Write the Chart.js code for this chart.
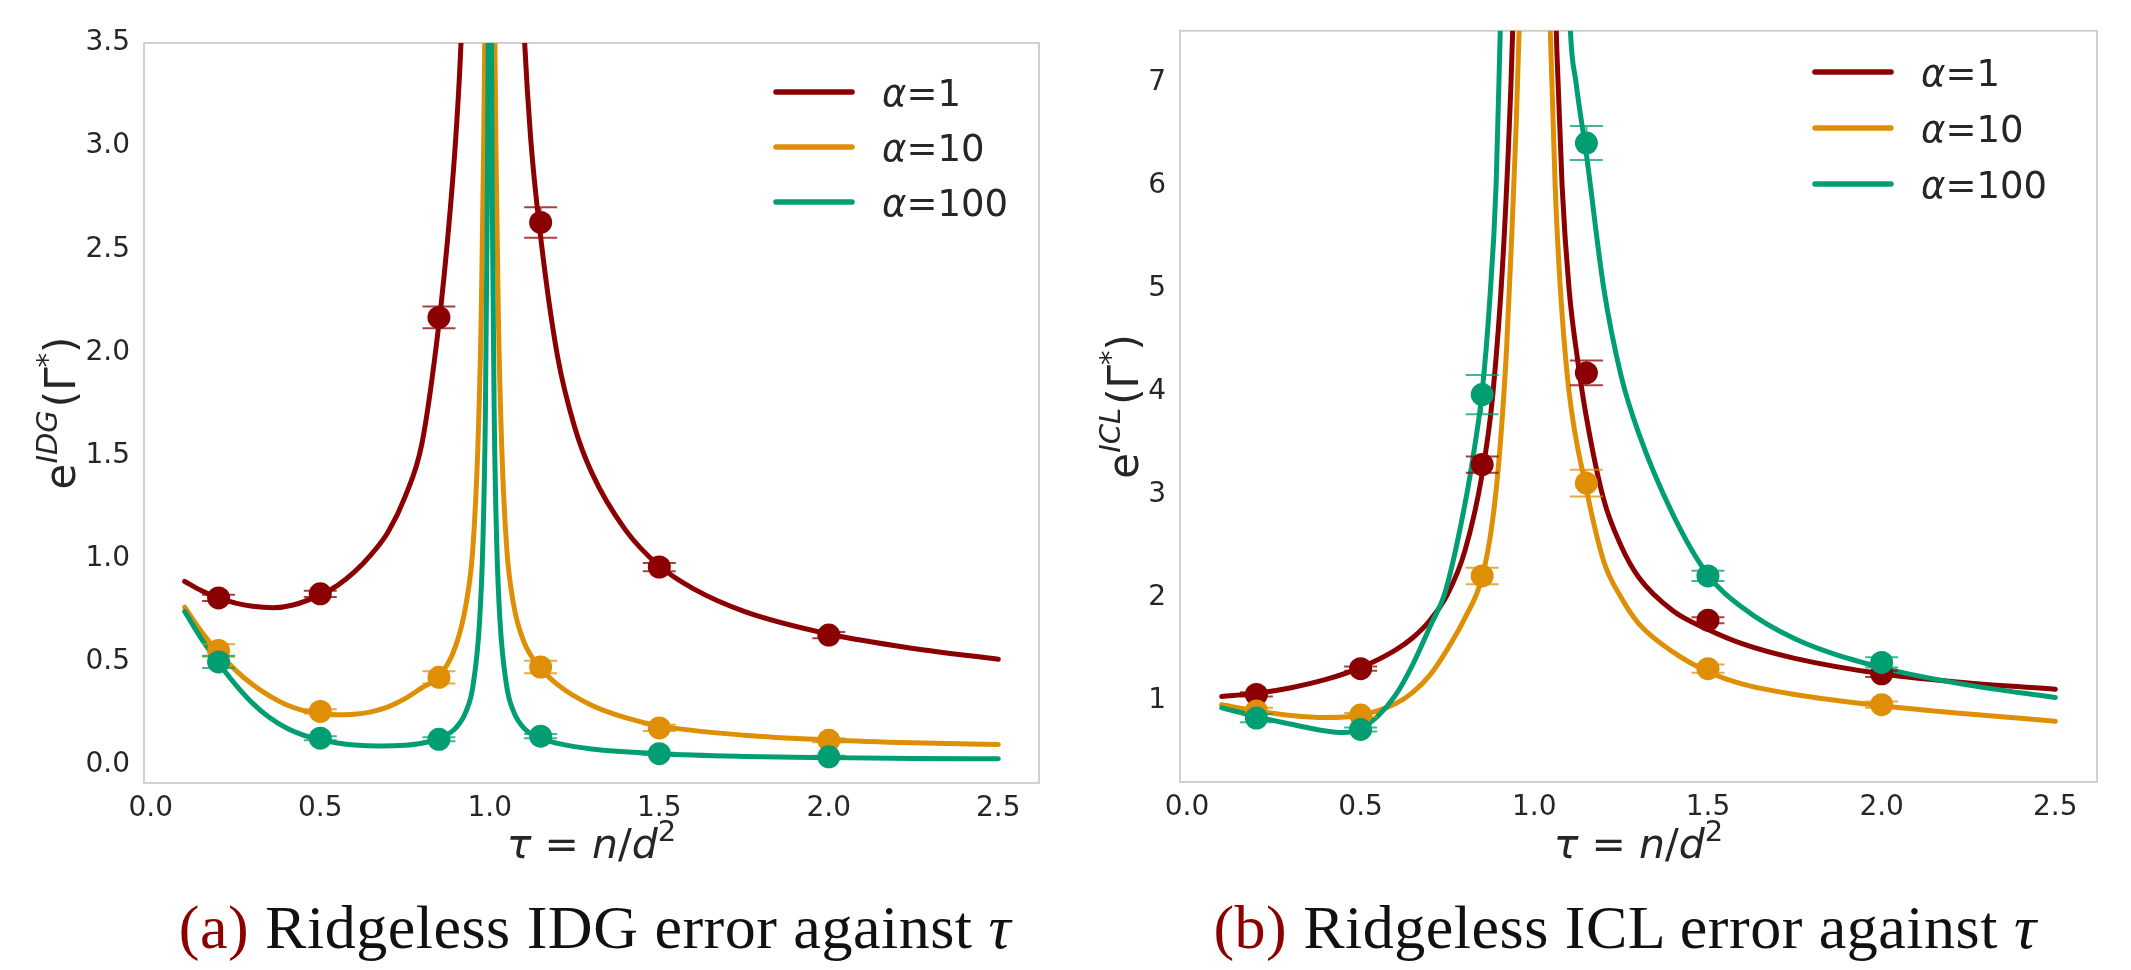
<!DOCTYPE html>
<html>
<head>
<meta charset="utf-8">
<script src="https://cdn.jsdelivr.net/npm/chart.js@4.4.1/dist/chart.umd.min.js"></script>
<style>
  html, body { margin: 0; padding: 0; background: #fff; }
  body { width: 2131px; height: 970px; position: relative; overflow: hidden; }
  .panel { position: absolute; top: 0; height: 880px; }
  #wrapA { left: 0; width: 1070px; }
  #wrapB { left: 1070px; width: 1061px; }
  .caption { position: absolute; top: 896px; font-family: "Liberation Serif", "DejaVu Serif", serif; font-size: 62px; line-height: 1; letter-spacing: 0.5px; color: #111; white-space: nowrap; transform: translateX(-50%); }
  .caption .tag { color: #8b0000; }
</style>
</head>
<body>
<div class="panel" id="wrapA"><canvas id="idgChart"></canvas></div>
<div class="panel" id="wrapB"><canvas id="iclChart"></canvas></div>
<div class="caption" style="left:595px"><span class="tag">(a)</span> Ridgeless IDG error against <i>τ</i></div>
<div class="caption" style="left:1625px"><span class="tag">(b)</span> Ridgeless ICL error against <i>τ</i></div>

<script>
// ticks
const tauTicks = [0.0, 0.5, 1.0, 1.5, 2.0, 2.5];
const idgTicks = [0.0, 0.5, 1.0, 1.5, 2.0, 2.5, 3.0, 3.5];
const iclTicks = [1, 2, 3, 4, 5, 6, 7];

const alphas = ["1", "10", "100"];
const colours = ["#8b0000", "#de8f05", "#029e73"];
const barColours = ["rgba(139,0,0,0.75)", "rgba(222,143,5,0.75)", "rgba(2,158,115,0.75)"];

// simulated points (tau positions shared by all series)
const tauObs = [0.2, 0.5, 0.85, 1.15, 1.5, 2.0];

const idgObs1 = [0.81, 0.83, 2.17, 2.63, 0.96, 0.63];
const idgErr1 = [0.015, 0.015, 0.053, 0.074, 0.02, 0.015];
const idgObs2 = [0.555, 0.26, 0.425, 0.475, 0.18, 0.12];
const idgErr2 = [0.03, 0.01, 0.03, 0.03, 0.015, 0.01];
const idgObs3 = [0.50, 0.13, 0.125, 0.14, 0.055, 0.04];
const idgErr3 = [0.03, 0.01, 0.01, 0.01, 0.005, 0.005];

const iclObs1 = [1.06, 1.31, 3.29, 4.18, 1.78, 1.26];
const iclErr1 = [0.02, 0.02, 0.08, 0.12, 0.03, 0.03];
const iclObs2 = [0.90, 0.86, 2.21, 3.11, 1.31, 0.96];
const iclErr2 = [0.03, 0.02, 0.08, 0.13, 0.04, 0.03];
const iclObs3 = [0.83, 0.72, 3.97, 6.41, 2.21, 1.37];
const iclErr3 = [0.04, 0.02, 0.19, 0.165, 0.05, 0.05];

// theory curves, [tau, value]; null marks the break at tau = 1
const idgCurve1 = [[0.10,0.890],[0.15,0.845],[0.20,0.810],[0.25,0.785],[0.30,0.770],[0.36,0.763],[0.42,0.776],[0.50,0.825],[0.55,0.870],[0.60,0.935],[0.65,1.020],[0.70,1.130],[0.75,1.300],[0.80,1.560],[0.85,2.140],[0.88,2.630],[0.90,3.050],[0.915,3.500],[0.93,4.300],[1.0,null],[1.085,4.300],[1.10,3.600],[1.12,3.050],[1.15,2.560],[1.20,1.980],[1.25,1.640],[1.30,1.420],[1.40,1.140],[1.50,0.965],[1.60,0.855],[1.75,0.745],[2.00,0.635],[2.25,0.565],[2.50,0.513]];
const idgCurve2 = [[0.10,0.765],[0.15,0.645],[0.20,0.545],[0.25,0.460],[0.30,0.390],[0.35,0.335],[0.40,0.292],[0.45,0.264],[0.50,0.250],[0.55,0.244],[0.60,0.246],[0.65,0.258],[0.70,0.282],[0.75,0.322],[0.80,0.375],[0.85,0.430],[0.90,0.580],[0.93,0.780],[0.95,1.050],[0.965,1.550],[0.975,2.200],[0.982,3.000],[0.988,4.000],[1.0,null],[1.012,4.000],[1.018,3.000],[1.025,2.200],[1.035,1.550],[1.05,1.050],[1.07,0.780],[1.10,0.600],[1.15,0.470],[1.20,0.390],[1.30,0.290],[1.40,0.230],[1.50,0.190],[1.75,0.145],[2.00,0.122],[2.25,0.108],[2.50,0.100]];
const idgCurve3 = [[0.10,0.745],[0.15,0.610],[0.20,0.495],[0.25,0.390],[0.30,0.300],[0.35,0.230],[0.40,0.180],[0.45,0.145],[0.50,0.122],[0.55,0.107],[0.60,0.097],[0.68,0.092],[0.75,0.096],[0.80,0.106],[0.85,0.128],[0.90,0.180],[0.93,0.260],[0.95,0.380],[0.97,0.700],[0.98,1.100],[0.987,1.700],[0.992,2.600],[0.996,3.700],[1.0,null],[1.004,3.700],[1.008,2.600],[1.013,1.700],[1.02,1.100],[1.03,0.700],[1.05,0.380],[1.07,0.260],[1.10,0.180],[1.15,0.130],[1.20,0.105],[1.30,0.078],[1.50,0.055],[1.75,0.042],[2.00,0.036],[2.25,0.032],[2.50,0.030]];

const iclCurve1 = [[0.10,1.040],[0.20,1.070],[0.30,1.125],[0.40,1.205],[0.50,1.320],[0.60,1.490],[0.65,1.610],[0.70,1.780],[0.75,2.030],[0.80,2.450],[0.85,3.200],[0.88,3.950],[0.91,5.300],[0.933,7.000],[0.945,8.300],[1.0,null],[1.055,8.500],[1.065,7.300],[1.08,6.000],[1.10,5.000],[1.125,4.300],[1.15,3.750],[1.20,2.950],[1.25,2.500],[1.30,2.200],[1.40,1.870],[1.50,1.690],[1.60,1.550],[1.75,1.410],[2.00,1.260],[2.25,1.170],[2.50,1.110]];
const iclCurve2 = [[0.10,0.960],[0.20,0.900],[0.30,0.855],[0.40,0.835],[0.50,0.860],[0.60,0.970],[0.65,1.080],[0.70,1.250],[0.75,1.500],[0.80,1.800],[0.85,2.200],[0.88,2.750],[0.90,3.400],[0.92,4.400],[0.935,5.500],[0.948,6.600],[0.96,7.900],[0.968,9.000],[1.0,null],[1.04,8.500],[1.046,7.500],[1.06,6.000],[1.075,5.000],[1.10,4.000],[1.15,3.050],[1.20,2.350],[1.25,2.000],[1.30,1.750],[1.40,1.470],[1.50,1.280],[1.60,1.160],[1.75,1.060],[2.00,0.950],[2.25,0.870],[2.50,0.800]];
const iclCurve3 = [[0.10,0.930],[0.20,0.845],[0.30,0.770],[0.40,0.705],[0.45,0.690],[0.50,0.730],[0.55,0.850],[0.60,1.050],[0.65,1.350],[0.70,1.720],[0.744,2.060],[0.80,2.900],[0.83,3.500],[0.85,4.000],[0.87,4.800],[0.89,6.000],[0.902,7.500],[0.91,8.500],[1.0,null],[1.095,8.500],[1.104,7.500],[1.12,7.000],[1.15,6.300],[1.20,5.000],[1.25,4.150],[1.30,3.600],[1.40,2.800],[1.50,2.220],[1.60,1.900],[1.75,1.600],[2.00,1.320],[2.25,1.150],[2.50,1.030]];

const FONT = "'DejaVu Sans', sans-serif";
const TEXT = "#262626";

// error bars, frame, math-style axis titles and legend
const extrasPlugin = {
	id: "extras",
	beforeDatasetsDraw(chart) {
		const a = chart.chartArea;
		const ctx = chart.ctx;
		ctx.save();
		ctx.strokeStyle = "#d0d0d0";
		ctx.lineWidth = 2;
		ctx.strokeRect(a.left, a.top, a.right - a.left, a.bottom - a.top);
		ctx.restore();
	},
	beforeDatasetDraw(chart, args) {
		const ds = chart.data.datasets[args.index];
		if (!ds.errors) return;
		const ctx = chart.ctx;
		const y = chart.scales.y;
		const a = chart.chartArea;
		ctx.save();
		ctx.beginPath();
		ctx.rect(a.left, a.top, a.right - a.left, a.bottom - a.top);
		ctx.clip();
		ctx.strokeStyle = ds.barColour;
		ctx.lineWidth = 2;
		args.meta.data.forEach((pt, i) => {
			const v = ds.data[i].y;
			const top = y.getPixelForValue(v + ds.errors[i]);
			const bot = y.getPixelForValue(v - ds.errors[i]);
			ctx.beginPath();
			ctx.moveTo(pt.x, top);
			ctx.lineTo(pt.x, bot);
			ctx.moveTo(pt.x - 16.5, top);
			ctx.lineTo(pt.x + 16.5, top);
			ctx.moveTo(pt.x - 16.5, bot);
			ctx.lineTo(pt.x + 16.5, bot);
			ctx.stroke();
		});
		ctx.restore();
	},
	afterDraw(chart, args, opts) {
		const ctx = chart.ctx;
		const a = chart.chartArea;
		ctx.save();
		ctx.fillStyle = TEXT;
		ctx.textBaseline = "alphabetic";
		// x title
		drawSegs(ctx, opts.xTitle, (a.left + a.right) / 2, opts.xBase, "center");
		// y title, rotated
		ctx.save();
		ctx.translate(opts.yBase, (a.top + a.bottom) / 2);
		ctx.rotate(-Math.PI / 2);
		drawSegs(ctx, opts.yTitle, 0, 0, "center");
		ctx.restore();
		// legend
		alphas.forEach((al, i) => {
			const ly = opts.legendY + i * opts.legendGap;
			ctx.strokeStyle = colours[i];
			ctx.lineWidth = 5.5;
			ctx.lineCap = "round";
			ctx.beginPath();
			ctx.moveTo(opts.legendX, ly);
			ctx.lineTo(opts.legendX + 76, ly);
			ctx.stroke();
			drawSegs(ctx, [
				{ t: "α", f: "italic 37px " + FONT },
				{ t: "=" + al, f: "37px " + FONT },
			], opts.legendX + 106, ly + 13.5, "left");
		});
		ctx.restore();
	},
};

function drawSegs(ctx, segs, x, y, align) {
	let total = 0;
	const widths = segs.map((s) => {
		ctx.font = s.f;
		const w = ctx.measureText(s.t).width + (s.gap || 0);
		total += w;
		return w;
	});
	let cx = align === "center" ? x - total / 2 : x;
	ctx.textAlign = "left";
	segs.forEach((s, i) => {
		ctx.font = s.f;
		ctx.fillText(s.t, cx, y - (s.rise || 0));
		cx += widths[i];
	});
}

function buildDatasets(curves, obs, errs) {
	const sets = [];
	curves.forEach((c, i) => {
		sets.push({
			data: c.map((p) => ({ x: p[0], y: p[1] })),
			showLine: true,
			borderColor: colours[i],
			borderWidth: 5,
			borderCapStyle: "round",
			borderJoinStyle: "round",
			cubicInterpolationMode: "monotone",
			spanGaps: false,
			pointRadius: 0,
			order: 10 - i,
		});
	});
	obs.forEach((o, i) => {
		sets.push({
			data: tauObs.map((t, j) => ({ x: t, y: o[j] })),
			errors: errs[i],
			barColour: barColours[i],
			showLine: false,
			pointRadius: 11.5,
			pointBorderWidth: 0,
			backgroundColor: colours[i],
			borderColor: colours[i],
			order: 5 - i,
		});
	});
	return sets;
}

function buildChart(id, datasets, yTicks, yMin, yMax, yFmt, layout, extras) {
	return new Chart(document.getElementById(id), {
		type: "scatter",
		data: { datasets: datasets },
		plugins: [extrasPlugin],
		options: {
			responsive: true,
			maintainAspectRatio: false,
			animation: false,
			events: [],
			layout: { padding: { left: 0, top: layout.top, right: layout.right, bottom: 0 } },
			scales: {
				x: {
					type: "linear",
					min: -0.02,
					max: 2.62,
					afterBuildTicks: (s) => { s.ticks = tauTicks.map((v) => ({ value: v })); },
					afterFit: (s) => { s.height = layout.xHeight; },
					grid: { display: false, drawTicks: false },
					border: { display: false },
					ticks: { color: TEXT, font: { family: FONT, size: 28 }, padding: 9, callback: (v) => v.toFixed(1) },
				},
				y: {
					type: "linear",
					min: yMin,
					max: yMax,
					afterBuildTicks: (s) => { s.ticks = yTicks.map((v) => ({ value: v })); },
					afterFit: (s) => { s.width = layout.yWidth; },
					grid: { display: false, drawTicks: false },
					border: { display: false },
					ticks: { color: TEXT, font: { family: FONT, size: 28 }, padding: 14, callback: yFmt },
				},
			},
			plugins: {
				legend: { display: false },
				tooltip: { enabled: false },
				extras: extras,
			},
		},
	});
}

const xTitle = [
	{ t: "τ", f: "italic 41px " + FONT },
	{ t: " = ", f: "41px " + FONT },
	{ t: "n", f: "italic 41px " + FONT },
	{ t: "/", f: "41px " + FONT },
	{ t: "d", f: "italic 41px " + FONT },
	{ t: "2", f: "29px " + FONT, rise: 17 },
];

function yTitle(sup) {
	return [
		{ t: "e", f: "42px " + FONT },
		{ t: sup, f: "italic 29px " + FONT, rise: 18, gap: 3 },
		{ t: "(", f: "42px " + FONT },
		{ t: "Γ", f: "42px " + FONT },
		{ t: "*", f: "29px " + FONT, rise: 18 },
		{ t: ")", f: "42px " + FONT },
	];
}

buildChart(
	"idgChart",
	buildDatasets([idgCurve1, idgCurve2, idgCurve3], [idgObs1, idgObs2, idgObs3], [idgErr1, idgErr2, idgErr3]),
	idgTicks, -0.087, 3.5, (v) => v.toFixed(1),
	{ top: 43, right: 31, xHeight: 97, yWidth: 144 },
	{ xTitle: xTitle, xBase: 858, yTitle: yTitle("IDG"), yBase: 75, legendX: 776, legendY: 92, legendGap: 55 }
);

buildChart(
	"iclChart",
	buildDatasets([iclCurve1, iclCurve2, iclCurve3], [iclObs1, iclObs2, iclObs3], [iclErr1, iclErr2, iclErr3]),
	iclTicks, 0.21, 7.5, (v) => String(v),
	{ top: 22, right: 34, xHeight: 98, yWidth: 110 },
	{ xTitle: xTitle, xBase: 858, yTitle: yTitle("ICL"), yBase: 68, legendX: 745, legendY: 72, legendGap: 56 }
);
</script>
</body>
</html>
